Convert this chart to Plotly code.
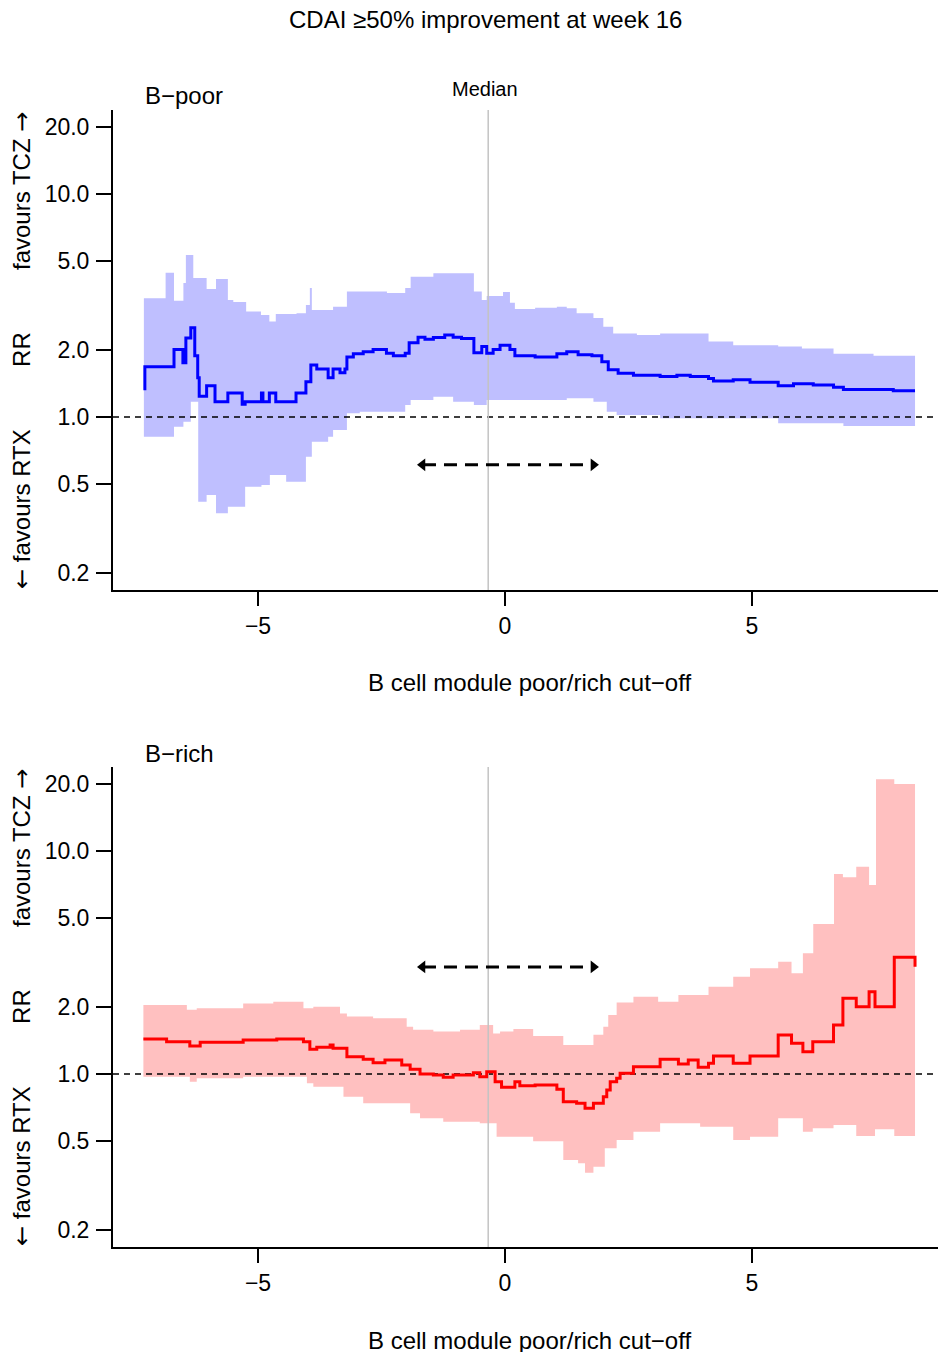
import plotly.graph_objects as go

# ---------------- data ----------------
# B-poor panel: step line (cut-off, RR)
poor_x = [-7.32, -7.29, -6.70, -6.52, -6.46, -6.36, -6.28, -6.22, -6.19, -6.04,
          -5.87, -5.61, -5.32, -5.26, -4.93, -4.90, -4.77, -4.64, -4.23, -4.03,
          -3.93, -3.81, -3.58, -3.48, -3.34, -3.24, -3.20, -3.07, -2.87, -2.67,
          -2.40, -2.26, -2.02, -1.94, -1.76, -1.62, -1.45, -1.22, -1.05, -0.88,
          -0.63, -0.47, -0.37, -0.24, -0.10, 0.10, 0.20, 0.61, 1.05, 1.25,
          1.48, 1.76, 1.96, 2.09, 2.29, 2.60, 3.14, 3.48, 3.75, 4.12,
          4.22, 4.62, 4.96, 5.53, 5.84, 6.24, 6.65, 6.85, 7.86, 8.30]
poor_rr = [1.34, 1.68, 2.01, 1.75, 2.26, 2.51, 1.88, 1.50, 1.24, 1.38,
           1.17, 1.28, 1.14, 1.17, 1.28, 1.17, 1.28, 1.17, 1.28, 1.44,
           1.71, 1.64, 1.50, 1.64, 1.58, 1.64, 1.86, 1.92, 1.96, 2.01,
           1.93, 1.88, 1.93, 2.15, 2.28, 2.23, 2.27, 2.33, 2.28, 2.25,
           1.94, 2.07, 1.93, 2.01, 2.10, 2.01, 1.88, 1.86, 1.92, 1.96,
           1.90, 1.88, 1.77, 1.63, 1.57, 1.54, 1.52, 1.54, 1.52, 1.49,
           1.45, 1.47, 1.43, 1.38, 1.41, 1.39, 1.36, 1.33, 1.31, 1.31]
# B-poor confidence band
poor_hi_x = [-7.31, -6.87, -6.70, -6.51, -6.46, -6.31, -6.04, -5.85, -5.61, -5.50,
             -5.24, -4.94, -4.77, -4.64, -4.22, -4.03, -3.95, -3.91, -3.48, -3.20,
             -2.39, -2.02, -1.91, -1.45, -0.63, -0.47, -0.37, -0.04, 0.10, 0.20,
             0.61, 1.05, 1.25, 1.45, 1.79, 1.99, 2.19, 2.67, 3.14, 4.12,
             4.62, 5.53, 6.01, 6.65, 7.46, 8.30]
poor_hi = [3.41, 4.44, 3.32, 3.99, 5.33, 4.20, 3.75, 4.16, 3.35, 3.28,
           2.97, 2.87, 2.68, 2.90, 2.92, 3.18, 3.79, 3.02, 3.12, 3.65,
           3.60, 3.79, 4.26, 4.41, 3.65, 3.35, 3.49, 3.64, 3.25, 3.05,
           3.09, 3.12, 3.07, 2.92, 2.78, 2.54, 2.37, 2.33, 2.37, 2.18,
           2.10, 2.07, 2.03, 1.92, 1.88, 1.88]
poor_lo_x = [-7.31, -6.70, -6.51, -6.36, -6.21, -6.04, -5.85, -5.61, -5.26, -4.93,
             -4.76, -4.43, -4.03, -3.91, -3.58, -3.48, -3.20, -2.94, -2.02, -1.91,
             -1.45, -1.05, -0.63, -0.37, 0.17, 1.25, 1.79, 2.06, 2.26, 3.14,
             5.53, 6.85, 8.30]
poor_lo = [0.816, 0.905, 0.953, 1.17, 0.417, 0.447, 0.370, 0.396, 0.487, 0.496,
           0.549, 0.513, 0.664, 0.775, 0.816, 0.874, 1.04, 1.056, 1.132, 1.192,
           1.233, 1.171, 1.132, 1.192, 1.192, 1.213, 1.171, 1.056, 1.021, 0.987,
           0.937, 0.911, 0.911]

# B-rich panel: step line
rich_x = [-7.32, -6.85, -6.38, -6.17, -5.30, -4.62, -4.08, -3.95, -3.81, -3.54,
          -3.48, -3.20, -2.87, -2.67, -2.43, -2.09, -1.92, -1.72, -1.45, -1.25,
          -1.05, -0.64, -0.51, -0.37, -0.20, -0.07, 0.20, 0.30, 0.61, 1.05,
          1.18, 1.45, 1.62, 1.79, 1.99, 2.06, 2.13, 2.26, 2.33, 2.60,
          3.14, 3.51, 3.71, 3.91, 4.12, 4.22, 4.62, 4.96, 5.53, 5.80,
          6.03, 6.23, 6.65, 6.84, 7.11, 7.37, 7.49, 7.88, 8.30]
rich_rr = [1.435, 1.396, 1.335, 1.387, 1.421, 1.435, 1.396, 1.291, 1.317, 1.349,
           1.304, 1.196, 1.164, 1.124, 1.155, 1.097, 1.049, 1.000, 0.990, 0.966,
           0.990, 1.013, 0.973, 1.024, 0.924, 0.872, 0.924, 0.886, 0.893, 0.854,
           0.751, 0.739, 0.702, 0.739, 0.791, 0.848, 0.924, 0.956, 1.007, 1.078,
           1.164, 1.109, 1.155, 1.071, 1.117, 1.204, 1.117, 1.204, 1.496, 1.373,
           1.259, 1.396, 1.658, 2.185, 2.004, 2.339, 2.004, 3.337, 3.03]
# B-rich confidence band
rich_hi_x = [-7.32, -6.44, -6.24, -5.30, -4.69, -4.08, -3.88, -3.34, -3.20, -2.67,
             -1.99, -1.86, -1.45, -0.91, -0.51, -0.24, -0.10, 0.17, 0.57, 1.18,
             1.79, 1.99, 2.09, 2.26, 2.60, 3.10, 3.51, 4.12, 4.62, 4.96,
             5.53, 5.80, 6.03, 6.24, 6.66, 6.84, 7.11, 7.37, 7.51, 7.88, 8.30]
rich_hi = [2.04, 1.94, 1.97, 2.07, 2.11, 1.97, 2.00, 1.87, 1.81, 1.78,
           1.63, 1.58, 1.55, 1.58, 1.66, 1.52, 1.55, 1.59, 1.48, 1.35,
           1.50, 1.63, 1.84, 2.09, 2.22, 2.11, 2.26, 2.46, 2.73, 2.98,
           3.19, 2.83, 3.48, 4.71, 7.89, 7.62, 8.51, 7.04, 20.97, 19.97, 19.97]
rich_lo_x = [-7.32, -6.38, -6.24, -5.30, -4.01, -3.88, -3.27, -2.87, -1.92, -1.72,
             -1.25, -0.51, -0.17, 0.57, 1.18, 1.48, 1.62, 1.79, 2.02, 2.26,
             2.60, 3.14, 3.95, 4.62, 4.96, 5.53, 6.03, 6.23, 6.65, 7.11,
             7.49, 7.88, 8.30]
rich_lo = [0.972, 0.924, 0.956, 0.972, 0.908, 0.877, 0.791, 0.739, 0.667, 0.633,
           0.611, 0.601, 0.523, 0.50, 0.411, 0.398, 0.361, 0.384, 0.464, 0.506,
           0.551, 0.601, 0.580, 0.506, 0.523, 0.633, 0.551, 0.571, 0.590, 0.527,
           0.565, 0.527, 0.527]

median_cut = -0.34
arrow_x = [-1.76, 1.88]
arrow_y_poor = 0.61
arrow_y_rich = 3.02

y_tickvals = [0.2, 0.5, 1, 2, 5, 10, 20]
y_ticktext = ["0.2", "0.5", "1.0", "2.0", "5.0", "10.0", "20.0"]
x_tickvals = [-5, 0, 5]
x_ticktext = ["\u22125", "0", "5"]

X_RANGE = [-7.935, 8.765]
Y_RANGE_LOG = [-0.7758, 1.3767]

FONT = "Liberation Sans, Arial, Helvetica, sans-serif"
W, H = 938, 1352

fig = go.Figure()

panels = [
    dict(xa="x", ya="y", lo_x=poor_lo_x, lo=poor_lo, hi_x=poor_hi_x, hi=poor_hi,
         lx=poor_x, ly=poor_rr, fill="rgb(191,191,255)", line="rgb(0,0,255)",
         arrow_y=arrow_y_poor),
    dict(xa="x2", ya="y2", lo_x=rich_lo_x, lo=rich_lo, hi_x=rich_hi_x, hi=rich_hi,
         lx=rich_x, ly=rich_rr, fill="rgb(255,192,192)", line="rgb(255,0,0)",
         arrow_y=arrow_y_rich),
]

for p in panels:
    fig.add_trace(go.Scatter(x=p["lo_x"], y=p["lo"], mode="lines",
                             line=dict(width=0, shape="hv", color=p["fill"]),
                             xaxis=p["xa"], yaxis=p["ya"], showlegend=False,
                             hoverinfo="skip"))
    fig.add_trace(go.Scatter(x=p["hi_x"], y=p["hi"], mode="lines", fill="tonexty",
                             fillcolor=p["fill"],
                             line=dict(width=0, shape="hv", color=p["fill"]),
                             xaxis=p["xa"], yaxis=p["ya"], showlegend=False,
                             hoverinfo="skip"))
    # reference line RR = 1
    fig.add_trace(go.Scatter(x=X_RANGE, y=[1, 1], mode="lines",
                             line=dict(color="black", width=1.5, dash="6px,5px"),
                             xaxis=p["xa"], yaxis=p["ya"], showlegend=False,
                             cliponaxis=False))
    # median line
    fig.add_trace(go.Scatter(x=[median_cut, median_cut],
                             y=[10 ** Y_RANGE_LOG[0], 10 ** Y_RANGE_LOG[1]],
                             mode="lines", line=dict(color="rgb(195,195,195)", width=1.5),
                             xaxis=p["xa"], yaxis=p["ya"], showlegend=False))
    # step line
    fig.add_trace(go.Scatter(x=p["lx"], y=p["ly"], mode="lines",
                             line=dict(color=p["line"], width=3, shape="hv"),
                             xaxis=p["xa"], yaxis=p["ya"], showlegend=False))
    # double-headed dashed arrow
    fig.add_trace(go.Scatter(x=[arrow_x[0] + 0.1, arrow_x[1] - 0.1],
                             y=[p["arrow_y"], p["arrow_y"]], mode="lines",
                             line=dict(color="black", width=3, dash="13px,8px"),
                             xaxis=p["xa"], yaxis=p["ya"], showlegend=False))
    fig.add_trace(go.Scatter(x=[arrow_x[0] + 0.09, arrow_x[1] - 0.09],
                             y=[p["arrow_y"], p["arrow_y"]], mode="markers",
                             marker=dict(symbol=["triangle-left", "triangle-right"],
                                         size=11, color="black"),
                             xaxis=p["xa"], yaxis=p["ya"], showlegend=False))

axis_common_x = dict(range=X_RANGE, showgrid=False, zeroline=False, showline=True,
                     linecolor="black", linewidth=2, ticks="outside", ticklen=14,
                     tickwidth=1.5, tickcolor="black", tickvals=x_tickvals,
                     ticktext=x_ticktext, tickfont=dict(size=23, color="black", family=FONT),
                     domain=[113 / W, 1.0])
axis_common_y = dict(type="log", range=Y_RANGE_LOG, showgrid=False, zeroline=False,
                     showline=True, linecolor="black", linewidth=2, ticks="outside",
                     ticklen=15, tickwidth=1.5, tickcolor="black", tickvals=y_tickvals,
                     ticktext=y_ticktext, ticklabelstandoff=2,
                     tickfont=dict(size=23, color="black", family=FONT))

fig.update_layout(
    width=W, height=H, margin=dict(l=0, r=0, t=0, b=0),
    paper_bgcolor="white", plot_bgcolor="white",
    font=dict(family=FONT, color="black", size=23),
    xaxis=dict(axis_common_x, anchor="y"),
    yaxis=dict(axis_common_y, anchor="x", domain=[1 - 590 / H, 1 - 110 / H]),
    xaxis2=dict(axis_common_x, anchor="y2"),
    yaxis2=dict(axis_common_y, anchor="x2", domain=[1 - 1247 / H, 1 - 767 / H]),
)

ann = []
def a(text, x, y, size=24, xref="paper", yref="paper", xanchor="center", angle=0):
    ann.append(dict(text=text, x=x, y=y, xref=xref, yref=yref, showarrow=False,
                    xanchor=xanchor, yanchor="middle", textangle=angle,
                    font=dict(size=size, color="black", family=FONT)))

ARW = '<span style="font-family:DejaVu Sans">%s</span>'
a("CDAI \u226550% improvement at week 16", 485 / W, 1 - 20 / H, size=24)
a("B\u2212poor", 143 / W, 1 - 95 / H, xanchor="left")
a("B\u2212rich", 143 / W, 1 - 753 / H, xanchor="left")
a("Median", 485 / W, 1 - 89 / H, size=20)
a("B cell module poor/rich cut\u2212off", 529 / W, 1 - 682 / H)
a("B cell module poor/rich cut\u2212off", 529 / W, 1 - 1340 / H)
for yref in ["y", "y2"]:
    a("favours TCZ " + ARW % "\u2192", 22 / W, 1.0135, xref="paper", yref=yref, angle=-90)
    a("RR", 22 / W, 0.301, xref="paper", yref=yref, angle=-90)
    a(ARW % "\u2190" + " favours RTX", 22 / W, -0.4126, xref="paper", yref=yref, angle=-90)

fig.update_layout(annotations=ann)
fig.write_html("out.html", config={"displayModeBar": False},
               post_script="document.body.style.margin='0';")
